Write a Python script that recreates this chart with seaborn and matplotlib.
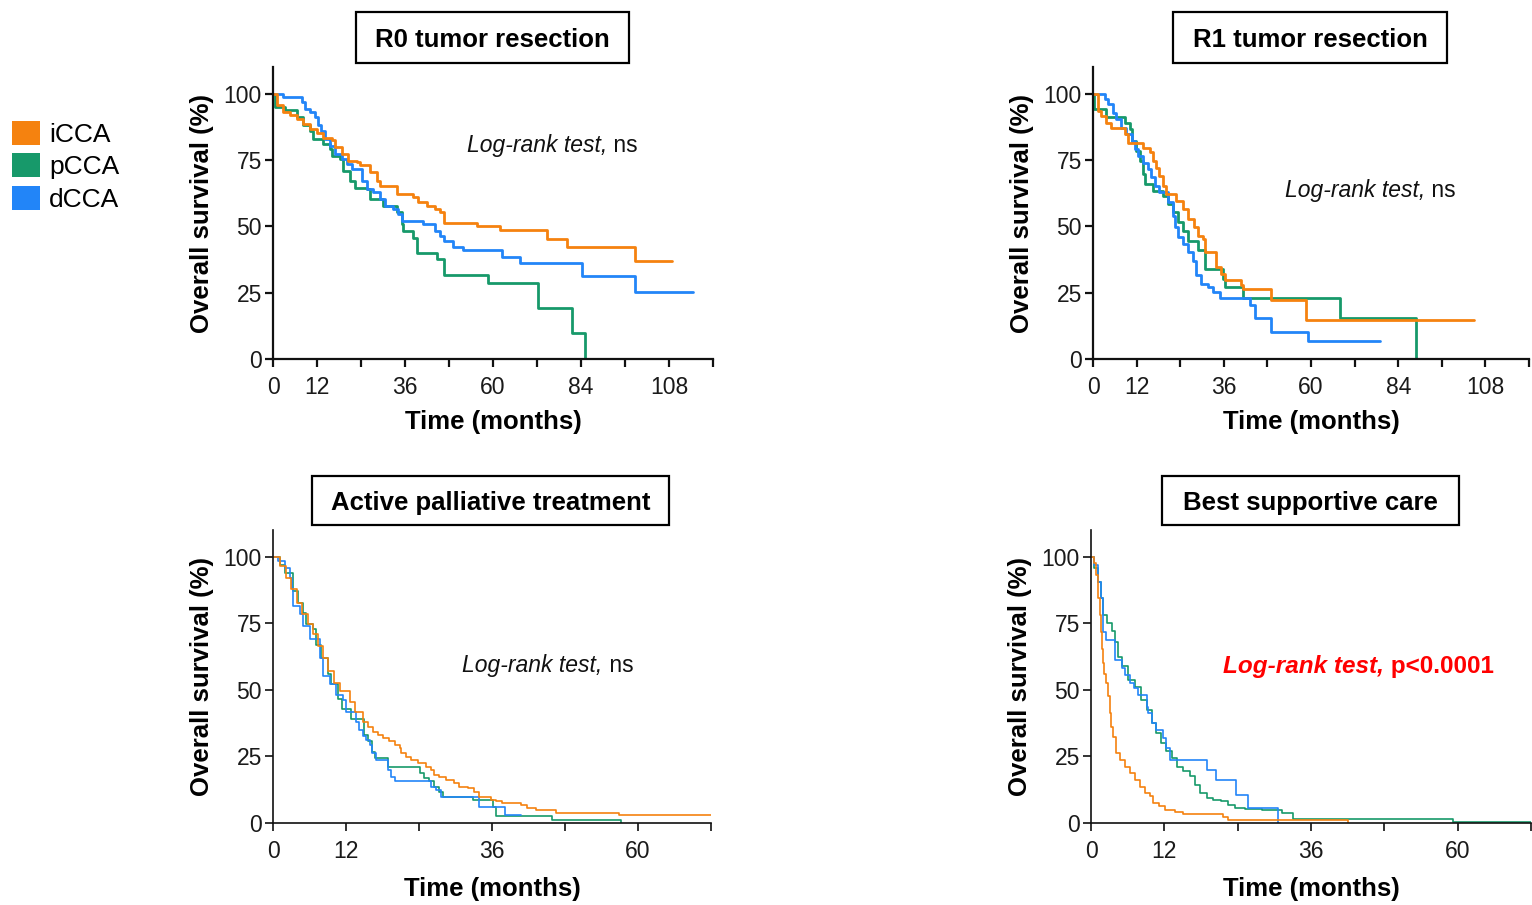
import matplotlib
matplotlib.use("Agg")
import matplotlib.pyplot as plt
from matplotlib.patches import Patch, Rectangle
import pandas as pd
import seaborn as sns

groups = ["iCCA", "pCCA", "dCCA"]
draw_order = ["pCCA", "dCCA", "iCCA"]
colors = {"iCCA": "#F5820F", "pCCA": "#17996A", "dCCA": "#2285F8"}

# ---- R0 tumor resection (months, % survival) ----
r0_icca_t = [0, 1.0, 2.8, 4.6, 6.5, 8.3, 10.0, 11.9, 13.7, 16.0, 16.9, 18.7, 20.5, 22.8, 23.7, 26.5,
             28.3, 29.2, 33.7, 38.3, 39.6, 41.9, 44.2, 45.5, 46.5, 55.5, 61.9, 74.6, 80.1, 98.7, 108.7]
r0_icca_s = [100, 95.6, 93.0, 91.8, 90.5, 88.6, 86.7, 85.0, 83.2, 82.6, 79.8, 77.3, 74.7, 74.1, 72.9, 70.3,
             67.2, 65.3, 62.1, 60.9, 59.0, 57.7, 56.4, 55.2, 51.4, 50.1, 48.5, 45.3, 42.2, 36.9, 36.9]
r0_pcca_t = [0, 0.5, 3.3, 6.5, 8.3, 10.0, 11.0, 13.7, 15.5, 16.0, 18.3, 19.2, 21.0, 22.4, 25.5, 26.5,
             30.1, 33.7, 35.1, 35.5, 38.3, 39.2, 44.6, 46.5, 58.7, 72.4, 81.5, 85.1]
r0_pcca_s = [100, 95.0, 93.7, 91.0, 88.0, 86.0, 83.0, 81.0, 79.0, 76.6, 75.4, 71.0, 67.2, 64.6, 64.0, 60.2,
             57.7, 55.2, 50.8, 48.2, 45.7, 40.0, 37.5, 31.8, 28.7, 19.2, 9.7, 0]
r0_dcca_t = [0, 2.8, 7.8, 8.7, 10.1, 11.5, 12.4, 13.0, 14.2, 15.5, 16.9, 18.7, 20.1, 21.5, 24.2, 25.5,
             27.4, 29.2, 30.5, 32.8, 34.2, 35.1, 41.0, 44.2, 45.5, 46.5, 49.2, 51.9, 62.4, 67.4, 84.2, 98.7, 114.5]
r0_dcca_s = [100, 98.7, 96.8, 94.3, 93.0, 91.2, 88.0, 86.0, 83.0, 80.4, 77.3, 75.4, 73.5, 71.6, 67.2, 64.0,
             62.8, 60.2, 57.7, 56.4, 54.5, 51.8, 50.8, 48.2, 46.3, 44.4, 42.3, 41.0, 38.5, 36.0, 31.4, 25.3, 25.3]

# ---- R1 tumor resection ----
r1_icca_t = [0, 1.4, 2.3, 3.7, 5.0, 8.7, 9.6, 13.8, 15.6, 16.5, 17.4, 18.3, 19.3, 20.2, 22.9, 24.8,
             26.1, 27.9, 28.9, 30.3, 30.7, 33.9, 35.3, 36.2, 40.8, 41.3, 48.9, 58.7, 104.9]
r1_icca_s = [100, 93.4, 91.5, 89.0, 87.0, 84.6, 81.5, 79.6, 77.8, 74.6, 72.0, 69.0, 65.3, 62.1, 59.6, 56.5,
             52.8, 49.6, 46.5, 45.3, 40.3, 34.6, 32.1, 29.6, 27.8, 26.3, 22.1, 14.6, 14.6]
r1_pcca_t = [0, 0.3, 3.7, 8.7, 10.1, 10.6, 11.9, 12.8, 13.8, 14.2, 16.5, 19.3, 20.6, 22.0, 23.4, 24.8,
             26.1, 28.9, 30.7, 35.8, 36.2, 41.3, 67.9, 89.0]
r1_pcca_s = [100, 94.0, 91.0, 89.0, 86.5, 82.0, 78.4, 74.6, 69.6, 65.9, 63.4, 61.5, 58.4, 55.3, 51.5, 48.4,
             44.6, 40.9, 34.0, 30.3, 27.1, 22.8, 15.3, 0]
r1_dcca_t = [0, 2.75, 3.2, 4.1, 5.5, 6.4, 7.8, 9.2, 10.6, 11.5, 12.4, 13.8, 15.1, 16.1, 17.0, 18.3, 20.6,
             22.0, 22.5, 23.4, 24.8, 26.1, 27.5, 28.4, 29.8, 31.7, 33.0, 34.9, 43.1, 44.5, 49.1, 59.2, 78.9]
r1_dcca_s = [100, 100, 97.8, 95.9, 92.8, 90.3, 87.1, 84.6, 82.1, 79.0, 76.5, 74.0, 71.5, 68.4, 65.3, 62.8, 59.0,
             54.0, 49.6, 45.9, 43.4, 40.3, 37.1, 31.5, 28.4, 27.1, 25.3, 22.8, 20.3, 15.3, 10.3, 6.8, 6.8]

# ---- Active palliative treatment ----
apt_icca_t = [0, 1.1, 2.2, 3.0, 3.9, 4.7, 5.8, 6.6, 7.4, 8.2, 9.0, 10.1, 11.0, 12.6, 13.4, 14.8, 15.6,
              16.4, 17.2, 18.1, 19.1, 20.0, 20.8, 21.1, 21.9, 22.7, 23.8, 25.2, 26.0, 26.5, 27.3, 28.4,
              29.8, 30.6, 32.0, 33.1, 33.9, 35.8, 36.6, 37.7, 40.7, 41.8, 43.2, 46.6, 56.8, 72.0]
apt_icca_s = [100, 96.5, 92.0, 87.7, 82.7, 78.3, 74.6, 70.8, 66.4, 62.0, 57.0, 52.6, 49.4, 45.6, 41.8, 38.1, 36.2,
              34.3, 33.1, 31.8, 30.6, 29.3, 28.1, 26.2, 24.9, 23.7, 22.4, 21.2, 19.9, 18.0, 17.4, 16.2,
              14.9, 13.7, 13.0, 11.8, 9.9, 8.7, 8.1, 7.4, 6.8, 5.5, 4.9, 3.9, 3.0, 3.0]
apt_pcca_t = [0, 1.1, 2.0, 3.3, 4.1, 4.9, 5.5, 6.6, 7.1, 7.9, 9.0, 9.6, 10.7, 11.3, 12.9, 14.9, 15.6,
              16.2, 16.7, 18.9, 24.1, 24.9, 25.7, 26.5, 27.3, 27.9, 32.8, 36.1, 36.6, 45.9, 57.2]
apt_pcca_s = [100, 97.0, 94.0, 87.0, 82.7, 79.0, 74.6, 72.7, 67.0, 62.0, 55.8, 52.0, 46.4, 42.7, 39.0, 33.1, 30.6,
              26.8, 24.3, 20.9, 18.7, 16.8, 15.6, 13.7, 11.8, 9.7, 8.6, 6.1, 2.6, 1.2, 0]
apt_dcca_t = [0, 0.9, 2.0, 2.8, 3.1, 3.3, 4.4, 4.9, 6.0, 7.7, 8.2, 9.3, 10.4, 11.5, 12.0, 13.7, 14.2,
              14.8, 15.3, 15.9, 16.2, 17.0, 18.9, 19.4, 20.0, 25.9, 26.8, 27.6, 33.9, 38.2, 40.7]
apt_dcca_s = [100, 98.4, 95.9, 92.0, 88.3, 81.5, 78.3, 73.9, 68.9, 62.0, 55.1, 52.0, 48.2, 46.2, 41.8, 38.1, 35.0,
              32.5, 31.1, 29.3, 26.2, 23.7, 19.9, 17.4, 15.6, 13.7, 12.4, 9.9, 6.1, 3.0, 3.0]

# ---- Best supportive care ----
bsc_icca_t = [0, 0.55, 0.8, 1.1, 1.4, 1.6, 1.8, 1.9, 2.1, 2.5, 2.8, 3.1, 3.3, 3.6, 4.1, 4.7, 5.5, 6.3,
              7.2, 8.0, 8.8, 9.6, 10.1, 11.2, 12.1, 13.7, 15.1, 21.6, 22.4, 42.0]
bsc_icca_s = [100, 97.5, 93.0, 84.3, 78.0, 71.8, 65.5, 60.0, 56.0, 52.5, 47.5, 41.2, 36.2, 32.4, 26.2, 23.7, 21.2, 18.7,
              16.2, 13.7, 11.2, 10.0, 7.5, 6.2, 5.0, 4.0, 3.4, 2.3, 1.3, 0]
bsc_pcca_t = [0, 0.5, 1.1, 1.6, 1.9, 2.6, 3.4, 3.9, 4.4, 5.0, 6.1, 7.2, 8.2, 9.1, 9.9, 10.7, 11.5, 12.3,
              13.2, 14.0, 15.1, 16.2, 17.0, 17.8, 18.9, 20.0, 21.3, 22.4, 23.5, 25.2, 27.9, 31.2, 33.0, 59.2, 72.0]
bsc_pcca_s = [100, 95.6, 90.6, 84.3, 78.0, 75.0, 71.9, 68.1, 62.5, 58.8, 53.8, 51.2, 46.2, 42.5, 37.5, 33.8, 30.0, 26.9,
              24.4, 21.2, 19.4, 17.5, 14.4, 11.2, 9.4, 8.7, 8.1, 6.8, 5.6, 5.2, 4.7, 3.7, 1.5, 0.5, 0.5]
bsc_dcca_t = [0, 0.5, 1.1, 1.6, 1.9, 2.5, 3.9, 5.0, 5.5, 6.3, 7.1, 7.7, 9.1, 9.3, 9.9, 10.7, 11.8, 12.3,
              12.9, 18.9, 20.5, 23.8, 25.7, 30.6]
bsc_dcca_s = [100, 97.0, 90.6, 84.3, 71.8, 68.8, 61.3, 58.1, 55.6, 52.5, 50.6, 48.1, 43.7, 41.2, 37.5, 35.0, 31.9, 28.1,
              23.7, 19.9, 16.2, 10.6, 5.6, 0]

top_ticks = list(range(0, 121, 12))
top_labels = ["0", "12", "", "36", "", "60", "", "84", "", "108", ""]
bottom_ticks = list(range(0, 73, 12))
bottom_labels = ["0", "12", "", "36", "", "60", ""]

W, H = 1532, 905


def km_frame(curves):
    parts = [pd.DataFrame({"time": t, "surv": s, "group": g}) for g, (t, s) in curves.items()]
    return pd.concat(parts, ignore_index=True)


def px_axes(fig, x0, y0, x1, y1):
    return fig.add_axes([x0 / W, 1 - y1 / H, (x1 - x0) / W, (y1 - y0) / H])


def title_box(fig, text, x0, y0, x1, y1):
    fig.patches.append(Rectangle((x0 / W, 1 - y1 / H), (x1 - x0) / W, (y1 - y0) / H,
                                 transform=fig.transFigure, fill=False, edgecolor="black", linewidth=1.6))
    # text sits a little below the box centre in the original
    fig.text((x0 + x1) / 2 / W, 1 - ((y0 + y1) / 2 + 2.5) / H, text, ha="center", va="center",
             fontsize=18.5, fontweight="bold", color="black")


def draw_panel(ax, df, xmax, ticks, labels, lw, spw, xlab_y):
    sns.lineplot(data=df, x="time", y="surv", hue="group", hue_order=draw_order, palette=colors,
                 estimator=None, drawstyle="steps-post", linewidth=lw, legend=False, ax=ax)
    ax.set_xlim(0, xmax)
    ax.set_ylim(0, 110)
    ax.set_xticks(ticks)
    ax.set_xticklabels(labels)
    ax.set_yticks([0, 25, 50, 75, 100])
    sns.despine(ax=ax)
    for side in ["left", "bottom"]:
        ax.spines[side].set_linewidth(spw)
        ax.spines[side].set_color("#111111")
    ax.tick_params(axis="both", direction="out", length=6, width=spw, color="#111111",
                   labelsize=16.5, labelcolor="#1a1a1a")
    ax.tick_params(axis="x", pad=6)
    ax.tick_params(axis="y", pad=2)
    ax.set_xlabel("Time (months)", fontsize=18.5, fontweight="bold", color="black")
    ax.set_ylabel("Overall survival (%)", fontsize=18.5, fontweight="bold", color="black")
    ax.xaxis.set_label_coords(0.5, xlab_y)
    ax.yaxis.set_label_coords(-0.135, 0.5)
    ax.grid(False)


def logrank(ax, x, y, right, color="#111111", weight="normal", size=16.5):
    ax.text(x, y, "Log-rank test,", ha="right", va="center", style="italic",
            color=color, fontweight=weight, fontsize=size)
    ax.text(x, y, " " + right, ha="left", va="center",
            color=color, fontweight=weight, fontsize=size)


sns.set_theme(style="ticks")
plt.rcParams["font.family"] = ["Liberation Sans", "DejaVu Sans"]
plt.rcParams["text.color"] = "black"

fig = plt.figure(figsize=(W / 100, H / 100), dpi=100)
fig.patch.set_facecolor("white")

ax1 = px_axes(fig, 273, 67, 713, 359)
draw_panel(ax1, km_frame({"iCCA": (r0_icca_t, r0_icca_s), "pCCA": (r0_pcca_t, r0_pcca_s),
                          "dCCA": (r0_dcca_t, r0_dcca_s)}), 120, top_ticks, top_labels, 2.0, 1.6, -0.175)
logrank(ax1, 91.1, 80.3, "ns")
title_box(fig, "R0 tumor resection", 356, 12, 629, 63)

ax2 = px_axes(fig, 1093, 67, 1529, 359)
draw_panel(ax2, km_frame({"iCCA": (r1_icca_t, r1_icca_s), "pCCA": (r1_pcca_t, r1_pcca_s),
                          "dCCA": (r1_dcca_t, r1_dcca_s)}), 120, top_ticks, top_labels, 2.0, 1.6, -0.175)
logrank(ax2, 91.4, 63.3, "ns")
title_box(fig, "R1 tumor resection", 1173, 12, 1447, 63)

ax3 = px_axes(fig, 273, 530, 711, 823)
draw_panel(ax3, km_frame({"iCCA": (apt_icca_t, apt_icca_s), "pCCA": (apt_pcca_t, apt_pcca_s),
                          "dCCA": (apt_dcca_t, apt_dcca_s)}), 72, bottom_ticks, bottom_labels, 1.2, 1.2, -0.185)
logrank(ax3, 54.2, 59.0, "ns")
title_box(fig, "Active palliative treatment", 312, 476, 669, 525)

ax4 = px_axes(fig, 1091, 530, 1531, 823)
draw_panel(ax4, km_frame({"iCCA": (bsc_icca_t, bsc_icca_s), "pCCA": (bsc_pcca_t, bsc_pcca_s),
                          "dCCA": (bsc_dcca_t, bsc_dcca_s)}), 72, bottom_ticks, bottom_labels, 1.2, 1.2, -0.185)
logrank(ax4, 48.0, 58.6, "p<0.0001", color="#FF0000", weight="bold", size=17.5)
title_box(fig, "Best supportive care", 1162, 476, 1459, 525)

handles = [Patch(facecolor=colors[g], edgecolor="none", label=g) for g in groups]
fig.legend(handles=handles, loc="upper left", bbox_to_anchor=(12 / W, 1 - 121 / H), frameon=False,
           fontsize=19, handlelength=1.05, handleheight=1.0, handletextpad=0.35, labelspacing=0.25,
           borderpad=0, borderaxespad=0)

fig.savefig("out.png", dpi=100)
